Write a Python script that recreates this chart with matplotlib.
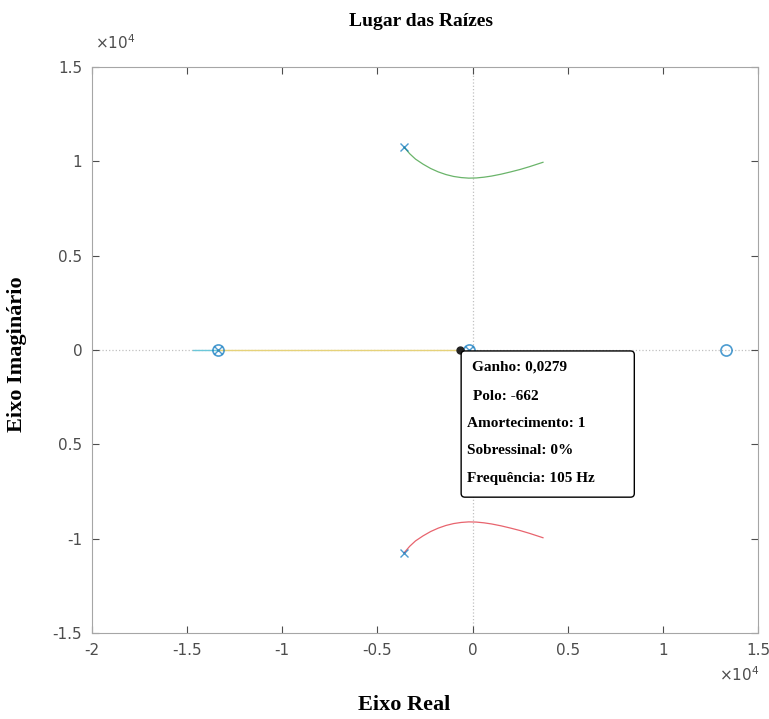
import matplotlib
matplotlib.use("Agg")
import matplotlib.pyplot as plt
from matplotlib.patches import FancyBboxPatch

# data (units of 1e4)
pole_x = [-0.36, -0.36, -1.34, -0.02]
pole_y = [1.075, -1.075, 0.0, 0.0]
zero_x = [-1.34, 1.33, -0.02]
zero_y = [0.0, 0.0, 0.0]

upper_x = [-0.36, -0.33, -0.30, -0.26, -0.22, -0.18, -0.14, -0.10, -0.06, -0.02,
           0.02, 0.06, 0.10, 0.15, 0.20, 0.25, 0.30, 0.37]
upper_y = [1.075, 1.04, 1.012, 0.985, 0.962, 0.944, 0.930, 0.920, 0.914, 0.911,
           0.912, 0.916, 0.922, 0.932, 0.944, 0.957, 0.972, 0.995]
lower_x = upper_x
lower_y = [-v for v in upper_y]

cyan_x = [-1.47, -1.34]
yellow_x = [-1.34, -0.07]

tip_x, tip_y = -0.066, 0.0
tip_lines = ["Ganho: 0,0279", "Polo: -662", "Amortecimento: 1",
             "Sobressinal: 0%", "Frequência: 105 Hz"]

xticks = [-2, -1.5, -1, -0.5, 0, 0.5, 1, 1.5]
yticks = [-1.5, -1, -0.5, 0, 0.5, 1, 1.5]
ytick_labels = ["-1.5", "-1", "0.5", "0", "0.5", "1", "1.5"]

GREY = "#4d4d4d"
BLUE = "#0072bd"
serif = "Liberation Serif"

fig = plt.figure(figsize=(7.69, 7.19), dpi=100)
ax = fig.add_axes([0.1196, 0.1196, 0.8661, 0.7872])
ax.set_xlim(-2, 1.5)
ax.set_ylim(-1.5, 1.5)

# dotted axis lines
ax.axhline(0, color="#c0c0c0", lw=0.9, ls=":", zorder=0)
ax.axvline(0, color="#c0c0c0", lw=0.9, ls=":", zorder=0)

ax.plot(cyan_x, [0, 0], color="#6cc7d9", lw=1.0)
ax.plot(yellow_x, [0, 0], color="#e6d27a", lw=1.0)
ax.plot(upper_x, upper_y, color="#6ab46a", lw=0.9)
ax.plot(lower_x, lower_y, color="#e8646e", lw=0.9)

ax.plot(pole_x, pole_y, "x", color=BLUE, ms=6, mew=1.0, alpha=0.7)
ax.plot(zero_x, zero_y, "o", mfc="none", color=BLUE, ms=8, mew=1.2, alpha=0.7)
ax.plot([tip_x], [tip_y], "o", color="#222222", ms=5, zorder=5)

# data tip box
box = FancyBboxPatch((-0.06, -0.78), 0.91, 0.775,
                     boxstyle="round,pad=0,rounding_size=0.02",
                     facecolor="white", edgecolor="black", lw=1.0, zorder=6)
ax.add_patch(box)
tx = [-0.005, -0.0, -0.03, -0.03, -0.03]
ty = [-0.09, -0.245, -0.39, -0.535, -0.68]
for x, y, s in zip(tx, ty, tip_lines):
    ax.text(x, y, s, fontsize=11, fontweight="bold", family=serif,
            ha="left", va="center", zorder=7)

ax.set_xticks(xticks)
ax.set_xticklabels([f"{v:g}" for v in xticks])
ax.set_yticks(yticks)
ax.set_yticklabels(ytick_labels)
ax.tick_params(direction="in", length=5, colors=GREY, labelsize=11,
               top=True, right=True, pad=7, labelcolor=GREY)
for s in ax.spines.values():
    s.set_color("#a6a6a6")
    s.set_linewidth(0.8)

fig.text(0.124, 0.927, r"$\times10^4$", color=GREY, fontsize=11, ha="left", va="bottom")
fig.text(0.988, 0.048, r"$\times10^4$", color=GREY, fontsize=11, ha="right", va="bottom")

fig.text(0.547, 0.97, "Lugar das Raízes", family=serif, fontweight="bold",
         fontsize=14, ha="center", va="center")
fig.text(0.525, 0.02, "Eixo Real", family=serif, fontweight="bold",
         fontsize=16, ha="center", va="center")
fig.text(0.022, 0.508, "Eixo Imaginário", family=serif, fontweight="bold",
         fontsize=16, ha="center", va="center", rotation=90)

fig.savefig("out.png", dpi=100, facecolor="white")
